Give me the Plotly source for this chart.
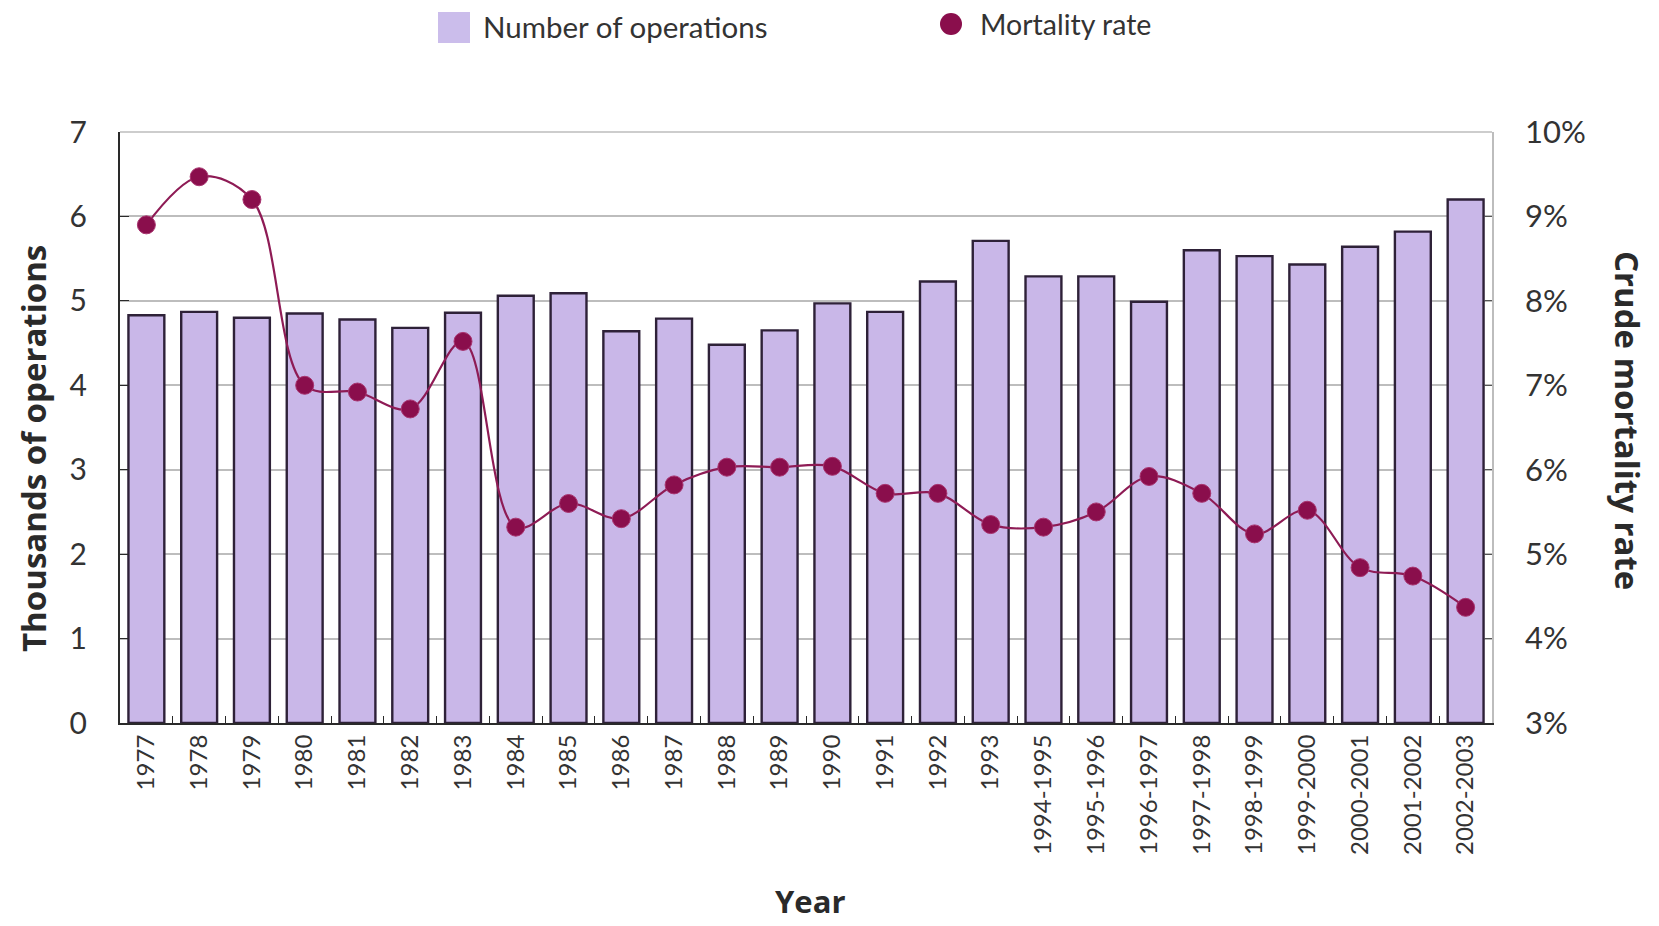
import plotly.graph_objects as go

years = ["1977", "1978", "1979", "1980", "1981", "1982", "1983", "1984", "1985",
         "1986", "1987", "1988", "1989", "1990", "1991", "1992", "1993",
         "1994-1995", "1995-1996", "1996-1997", "1997-1998", "1998-1999",
         "1999-2000", "2000-2001", "2001-2002", "2002-2003"]

operations_thousands = [4.83, 4.87, 4.80, 4.85, 4.78, 4.68, 4.86, 5.06, 5.09,
                        4.64, 4.79, 4.48, 4.65, 4.97, 4.87, 5.23, 5.71,
                        5.29, 5.29, 4.99, 5.60, 5.53, 5.43, 5.64, 5.82, 6.20]

mortality_pct = [8.90, 9.47, 9.20, 7.00, 6.92, 6.72, 7.52, 5.32, 5.60,
                 5.42, 5.82, 6.03, 6.03, 6.04, 5.72, 5.72, 5.35,
                 5.32, 5.50, 5.92, 5.72, 5.24, 5.52, 4.84, 4.74, 4.37]

left_ticks = [0, 1, 2, 3, 4, 5, 6, 7]
right_ticks = [3, 4, 5, 6, 7, 8, 9, 10]
right_labels = [f"{v}%" for v in right_ticks]

BAR_FILL = "#C9B7E8"
BAR_EDGE = "#2E2138"
LINE_COL = "#8E1B55"
MARK_COL = "#8A0E4C"
FONT = "Lato"
TITLE_FONT = "Open Sans"
TXT = "#333333"
DARK = "#2a2a2a"

# page geometry (the page body adds an 8px offset)
OFF = 8
FW, FH = 1651, 918
PL, PR, PT, PB = 120, 1492, 132, 723


def px(x):
    return (x - PL) / (PR - PL)


def py(y):
    return (PB - y) / (PB - PT)


fig = go.Figure()

fig.add_trace(go.Bar(
    x=years, y=operations_thousands, name="Number of operations",
    marker=dict(color=BAR_FILL, line=dict(color=BAR_EDGE, width=2.4)),
    yaxis="y", showlegend=False,
))

fig.add_trace(go.Scatter(
    x=years, y=mortality_pct, mode="lines+markers", yaxis="y2",
    line=dict(color=LINE_COL, width=2.2, shape="spline", smoothing=1.0),
    marker=dict(color=MARK_COL, size=18, line=dict(color="#A8346F", width=1)),
    showlegend=False, name="Mortality rate",
))

legend_shapes = [
    dict(type="rect", xref="paper", yref="paper",
         x0=px(438), x1=px(470), y0=py(43), y1=py(12),
         fillcolor="#CBBDEB", line=dict(width=0)),
    dict(type="circle", xref="paper", yref="paper",
         x0=px(940), x1=px(962), y0=py(35), y1=py(13),
         fillcolor=MARK_COL, line=dict(width=0)),
    dict(type="line", xref="paper", yref="paper", x0=0, x1=1, y0=1, y1=1,
         line=dict(color="#BDBDBD", width=1.5)),
]

fig.update_layout(
    width=FW, height=FH,
    margin=dict(l=PL - OFF, r=FW - (PR - OFF), t=PT - OFF, b=FH - (PB - OFF),
                autoexpand=False),
    paper_bgcolor="white", plot_bgcolor="white",
    font=dict(family=FONT, color=TXT),
    bargap=0.32,
    showlegend=False,
    xaxis=dict(
        type="category", tickangle=-90,
        range=[-0.5, len(years) - 0.5],
        tickfont=dict(size=24, family=FONT, color=TXT),
        showline=True, linecolor=DARK, linewidth=2.2,
        ticks="inside", tickson="boundaries", ticklen=7, tickcolor=DARK,
        showgrid=False, zeroline=False,
    ),
    yaxis=dict(
        range=[0, 7], tickvals=left_ticks,
        tickfont=dict(size=30, family=FONT, color=TXT),
        showline=True, linecolor=DARK, linewidth=2.2,
        ticks="inside", ticklen=9, tickcolor=DARK,
        ticklabelstandoff=25,
        showgrid=True, gridcolor="#BDBDBD", gridwidth=1.5,
        zeroline=False,
    ),
    yaxis2=dict(
        range=[3, 10], tickvals=right_ticks, ticktext=right_labels,
        overlaying="y", side="right",
        tickfont=dict(size=31, family=FONT, color=TXT),
        showline=True, linecolor="#BDBDBD", linewidth=1.5,
        ticks="inside", ticklen=7, tickcolor="#555555",
        ticklabelstandoff=25,
        showgrid=False, zeroline=False,
    ),
    shapes=legend_shapes,
    annotations=[
        dict(text="Number of operations", xref="paper", yref="paper",
             x=px(481), y=py(26), xanchor="left", yanchor="middle", showarrow=False,
             font=dict(size=29.5, family=FONT, color=TXT)),
        dict(text="Mortality rate", xref="paper", yref="paper",
             x=px(978), y=py(24), xanchor="left", yanchor="middle", showarrow=False,
             font=dict(size=28.5, family=FONT, color=TXT)),
        dict(text="<b>Thousands of operations</b>", xref="paper", yref="paper",
             x=px(33), y=py(449), xanchor="center", yanchor="middle",
             textangle=-90, showarrow=False,
             font=dict(size=33, family=TITLE_FONT, color=DARK)),
        dict(text="<b>Crude mortality rate</b>", xref="paper", yref="paper",
             x=px(1628), y=py(420), xanchor="center", yanchor="middle",
             textangle=90, showarrow=False,
             font=dict(size=33, family=TITLE_FONT, color=DARK)),
        dict(text="<b>Year</b>", xref="paper", yref="paper",
             x=px(810), y=py(901), xanchor="center", yanchor="middle",
             showarrow=False,
             font=dict(size=31, family=TITLE_FONT, color=DARK)),
    ],
)

fig.write_html("out.html")
